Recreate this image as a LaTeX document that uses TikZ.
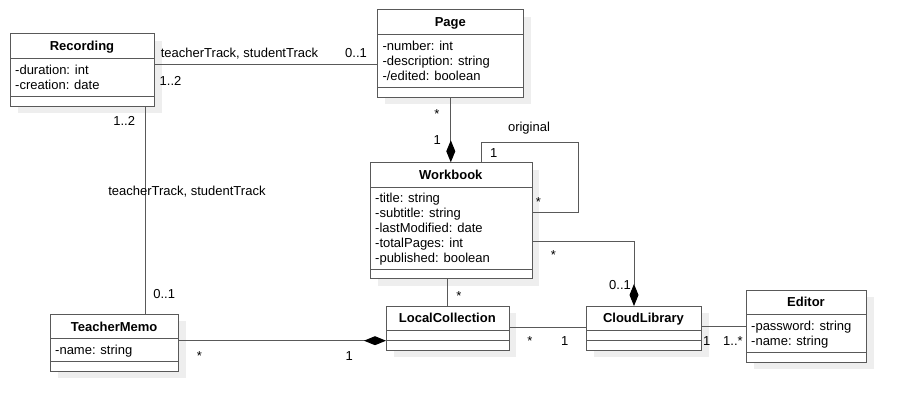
\documentclass[tikz,border=0pt]{standalone}
\usepackage{fontspec}
\setmainfont{Liberation Sans}
\usetikzlibrary{arrows.meta,shadows}
\definecolor{umlgray}{RGB}{89,89,89}
\definecolor{shadowgray}{RGB}{238,238,238}

\begin{document}
\begin{tikzpicture}[x=1pt, y=-1pt,
  every node/.style={font=\fontsize{13}{15}\selectfont},
  classbox/.style={draw=umlgray, line width=1pt, fill=white, anchor=north west, inner sep=0pt,
    drop shadow={shadow xshift=7pt, shadow yshift=-7pt, fill=shadowgray, opacity=1}},
  sepline/.style={draw=umlgray, line width=1pt},
  classtitle/.style={anchor=base, inner sep=0pt, font=\fontsize{13}{15}\selectfont\bfseries},
  attrtext/.style={anchor=base west, inner sep=0pt},
  multlabel/.style={anchor=base, inner sep=0pt},
  assoc/.style={draw=umlgray, line width=1pt},
  compo/.style={assoc, -{Diamond[length=22pt, width=9pt, fill=black, color=black]}}
]
\useasboundingbox (0,0) rectangle (906,411);

% Draw the classes and insert the attributes
\node[classbox, minimum width=144, minimum height=72.7] (recording) at (10,33.3) {};
\draw[sepline] (10,59) -- (154,59);
\draw[sepline] (10,96.7) -- (154,96.7);
\node[classtitle] (recording-t) at (82,51) {Recording};
\node[attrtext] (recording-a1) at (15,75) {-duration: int};
\node[attrtext] (recording-a2) at (15,89.5) {-creation: date};

\node[classbox, minimum width=146, minimum height=87.4] (page) at (377.3,9.3) {};
\draw[sepline] (377.3,34.7) -- (523.3,34.7);
\draw[sepline] (377.3,87.7) -- (523.3,87.7);
\node[classtitle] (page-t) at (450.3,26.7) {Page};
\node[attrtext] (page-a1) at (382.3,50.5) {-number: int};
\node[attrtext] (page-a2) at (382.3,65.5) {-description: string};
\node[attrtext] (page-a3) at (382.3,80.5) {-/edited: boolean};

\node[classbox, minimum width=161.7, minimum height=116] (workbook) at (370,162.3) {};
\draw[sepline] (370,187.3) -- (531.7,187.3);
\draw[sepline] (370,270) -- (531.7,270);
\node[classtitle] (workbook-t) at (450.8,179.5) {Workbook};
\node[attrtext] (workbook-a1) at (375,202.8) {-title: string};
\node[attrtext] (workbook-a2) at (375,217.8) {-subtitle: string};
\node[attrtext] (workbook-a3) at (375,232.8) {-lastModified: date};
\node[attrtext] (workbook-a4) at (375,247.8) {-totalPages: int};
\node[attrtext] (workbook-a5) at (375,262.8) {-published: boolean};

\node[classbox, minimum width=122.7, minimum height=44] (localcoll) at (386,306) {};
\draw[sepline] (386,330.7) -- (508.7,330.7);
\draw[sepline] (386,340.7) -- (508.7,340.7);
\node[classtitle] (localcoll-t) at (447.3,323) {LocalCollection};

\node[classbox, minimum width=115, minimum height=44] (cloudlib) at (586,306) {};
\draw[sepline] (586,330.7) -- (701,330.7);
\draw[sepline] (586,340.7) -- (701,340.7);
\node[classtitle] (cloudlib-t) at (643.5,323) {CloudLibrary};

\node[classbox, minimum width=120, minimum height=71.7] (editor) at (746,290) {};
\draw[sepline] (746,314.7) -- (866,314.7);
\draw[sepline] (746,352.7) -- (866,352.7);
\node[classtitle] (editor-t) at (806,307) {Editor};
\node[attrtext] (editor-a1) at (751,330.7) {-password: string};
\node[attrtext] (editor-a2) at (751,345.5) {-name: string};

\node[classbox, minimum width=128.3, minimum height=56.7] (teachermemo) at (50,314) {};
\draw[sepline] (50,339) -- (178.3,339);
\draw[sepline] (50,362) -- (178.3,362);
\node[classtitle] (teachermemo-t) at (114.2,331.2) {TeacherMemo};
\node[attrtext] (teachermemo-a1) at (55,355) {-name: string};

% Associations
\draw[assoc] (recording.east |- 0,65) -- (page.west |- 0,65);
\draw[assoc] (recording.south -| 145,0) -- (teachermemo.north -| 145,0);
\draw[compo] (page.south) -- (workbook.north -| page.south);
\draw[assoc] (workbook.north -| 481.7,0) |- (578.3,142.3) |- (workbook.east |- 0,212.3);
\draw[compo] (workbook.east |- 0,241.7) -| (cloudlib.north -| 634,0);
\draw[assoc] (workbook.south -| localcoll.north) -- (localcoll.north);
\draw[compo] (teachermemo.east |- 0,340.7) -- (localcoll.west |- 0,340.7);
\draw[assoc] (localcoll.east |- 0,328) -- (cloudlib.west |- 0,328);
\draw[assoc] (cloudlib.east |- 0,326.7) -- (editor.west |- 0,326.7);

% Role names and multiplicities
\node[multlabel] (rp-role) at (239.5,57.5) {teacherTrack, studentTrack};
\node[multlabel] (rp-page) at (356,57.5) {0..1};
\node[multlabel] (rp-rec) at (170.5,86) {1..2};
\node[multlabel] (rt-rec) at (124.2,126) {1..2};
\node[multlabel] (rt-role) at (186.9,195.3) {teacherTrack, studentTrack};
\node[multlabel] (rt-memo) at (164.2,298.3) {0..1};
\node[multlabel] (pw-page) at (437,118.5) {*};
\node[multlabel] (pw-wb) at (437.3,145) {1};
\node[multlabel] (loop-role) at (529,131.7) {original};
\node[multlabel] (loop-one) at (493.8,157.7) {1};
\node[multlabel] (loop-many) at (538.3,206.7) {*};
\node[multlabel] (wc-wb) at (553.3,260) {*};
\node[multlabel] (wc-cloud) at (620,289.3) {0..1};
\node[multlabel] (wl-lc) at (459,301) {*};
\node[multlabel] (tl-memo) at (199.3,360.7) {*};
\node[multlabel] (tl-lc) at (349.3,360.7) {1};
\node[multlabel] (lc-local) at (530,346) {*};
\node[multlabel] (lc-cloud) at (564.7,345.5) {1};
\node[multlabel] (ce-cloud) at (706.7,345.5) {1};
\node[multlabel] (ce-editor) at (733,345.5) {1..*};
\end{tikzpicture}
\end{document}
